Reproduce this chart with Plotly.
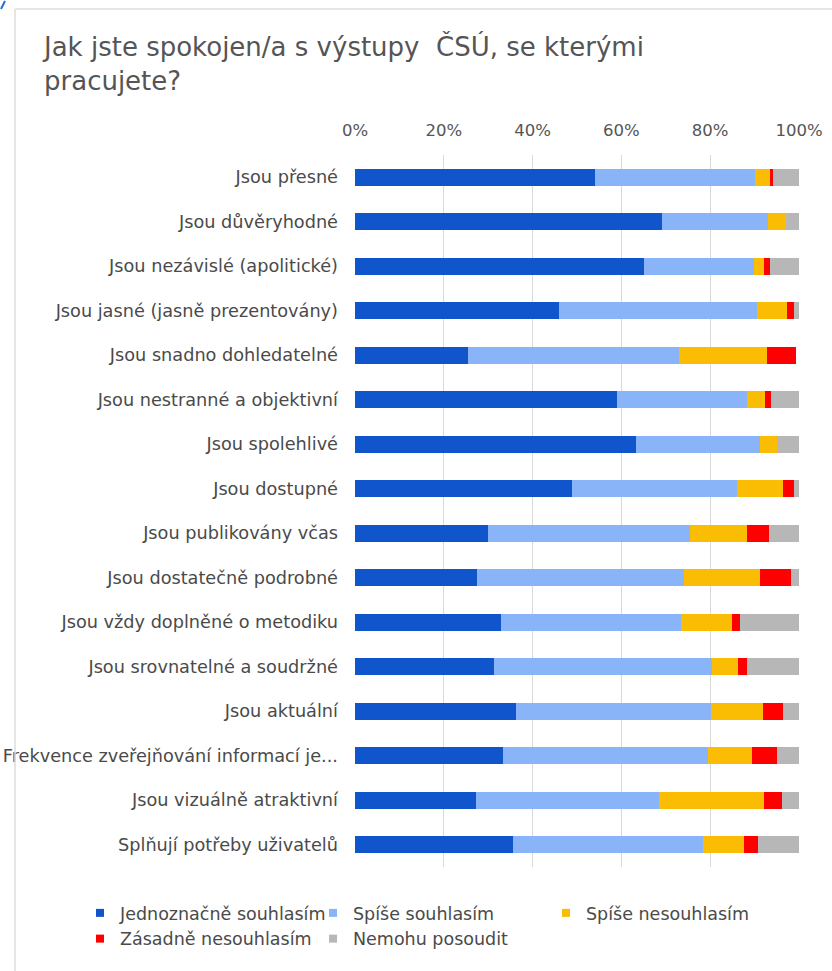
import plotly.graph_objects as go

categories = [
    "Jsou přesné",
    "Jsou důvěryhodné",
    "Jsou nezávislé (apolitické)",
    "Jsou jasné (jasně prezentovány)",
    "Jsou snadno dohledatelné",
    "Jsou nestranné a objektivní",
    "Jsou spolehlivé",
    "Jsou dostupné",
    "Jsou publikovány včas",
    "Jsou dostatečně podrobné",
    "Jsou vždy doplněné o metodiku",
    "Jsou srovnatelné a soudržné",
    "Jsou aktuální",
    "Frekvence zveřejňování informací je...",
    "Jsou vizuálně atraktivní",
    "Splňují potřeby uživatelů",
]

jednoznacne_souhlasim = [54.0, 69.2, 65.2, 45.9, 25.4, 58.9, 63.3, 48.9, 30.0, 27.5, 32.8, 31.4, 36.2, 33.3, 27.3, 35.6]
spise_souhlasim = [36.0, 23.8, 24.6, 44.7, 47.6, 29.4, 27.9, 37.1, 45.4, 46.7, 40.6, 49.1, 44.0, 46.2, 41.1, 42.8]
spise_nesouhlasim = [3.5, 4.0, 2.3, 6.8, 19.9, 4.0, 3.8, 10.5, 12.9, 17.1, 11.4, 5.7, 11.7, 10.0, 23.7, 9.1]
zasadne_nesouhlasim = [0.6, 0.0, 1.4, 1.4, 6.4, 1.5, 0.0, 2.3, 4.9, 6.9, 1.8, 2.1, 4.5, 5.5, 4.0, 3.3]
nemohu_posoudit = [5.9, 3.0, 6.5, 1.2, 0.0, 6.2, 5.0, 1.2, 6.8, 1.8, 13.4, 11.7, 3.6, 5.0, 3.9, 9.2]

series_names = ["Jednoznačně souhlasím", "Spíše souhlasím", "Spíše nesouhlasím",
                "Zásadně nesouhlasím", "Nemohu posoudit"]
series_values = [jednoznacne_souhlasim, spise_souhlasim, spise_nesouhlasim,
                 zasadne_nesouhlasim, nemohu_posoudit]
series_colors = ["#1155cc", "#8ab4f8", "#fbbc04", "#ff0000", "#b7b7b7"]

x_ticks = [0, 20, 40, 60, 80, 100]
x_tick_labels = ["0%", "20%", "40%", "60%", "80%", "100%"]

FONT = "DejaVu Sans, Liberation Sans, Arial, sans-serif"
TEXT = "#555555"

fig = go.Figure()
for name, vals, col in zip(series_names, series_values, series_colors):
    fig.add_trace(go.Bar(
        y=categories, x=vals, name=name, orientation="h",
        marker=dict(color=col, line=dict(width=0)),
        showlegend=False,
    ))
# legend entries (small square keys)
for name, col in zip(series_names, series_colors):
    fig.add_trace(go.Scatter(
        x=[None], y=[None], mode="markers", name=name,
        marker=dict(symbol="square", size=8, color=col),
        showlegend=True,
    ))

W, H = 832, 971
L, R, T, B = 355, 33, 155, 104
pw, ph = W - L - R, H - T - B

def px_x(px):
    return (px - L) / pw

def px_y(py):
    return (H - B - py) / ph

fig.update_layout(
    width=W, height=H,
    barmode="stack", bargap=0.62,
    paper_bgcolor="white", plot_bgcolor="white",
    margin=dict(l=L, r=R, t=T, b=B, pad=0, autoexpand=False),
    font=dict(family=FONT, color=TEXT, size=17),
    title=dict(
        text="Jak jste spokojen/a s výstupy  ČSÚ, se kterými<br>pracujete?",
        font=dict(family=FONT, size=26, color=TEXT),
        x=44 / W, xanchor="left", xref="container",
        y=1 - 56 / H, yanchor="top", yref="container",
    ),
    xaxis=dict(
        side="top", range=[0, 100], tickvals=x_ticks, ticktext=x_tick_labels,
        showgrid=True, gridcolor="#d9d9d9", gridwidth=1,
        zeroline=False, showline=False, ticks="", ticklabelstandoff=15,
        tickfont=dict(family=FONT, size=16.5, color=TEXT),
        automargin=False, fixedrange=True,
    ),
    yaxis=dict(
        autorange="reversed", showgrid=False, zeroline=False, showline=False,
        ticks="", ticklabelstandoff=16, automargin=False, fixedrange=True,
        tickfont=dict(family=FONT, size=17.7, color="#4a4a4a"),
    ),
    legend=dict(
        orientation="h", traceorder="normal",
        x=px_x(80), xanchor="left", y=px_y(895), yanchor="top",
        font=dict(family=FONT, size=17.5, color="#4a4a4a"),
        itemwidth=30, entrywidth=188, entrywidthmode="pixels",
        tracegroupgap=0, bgcolor="rgba(0,0,0,0)",
    ),
    shapes=[
        dict(type="line", xref="paper", yref="paper",
             x0=px_x(15), x1=px_x(832), y0=px_y(9), y1=px_y(9),
             line=dict(color="#dcdcdc", width=1.5)),
        dict(type="line", xref="paper", yref="paper",
             x0=px_x(15), x1=px_x(15), y0=px_y(9), y1=px_y(971),
             line=dict(color="#dcdcdc", width=1.5)),
        dict(type="line", xref="paper", yref="paper",
             x0=px_x(1), x1=px_x(5), y0=px_y(9), y1=px_y(1),
             line=dict(color="#1f6fd1", width=2)),
    ],
)

fig.write_html(
    "out.html",
    config={"displayModeBar": False},
    post_script="document.body.style.margin='0';document.body.style.padding='0';",
)
